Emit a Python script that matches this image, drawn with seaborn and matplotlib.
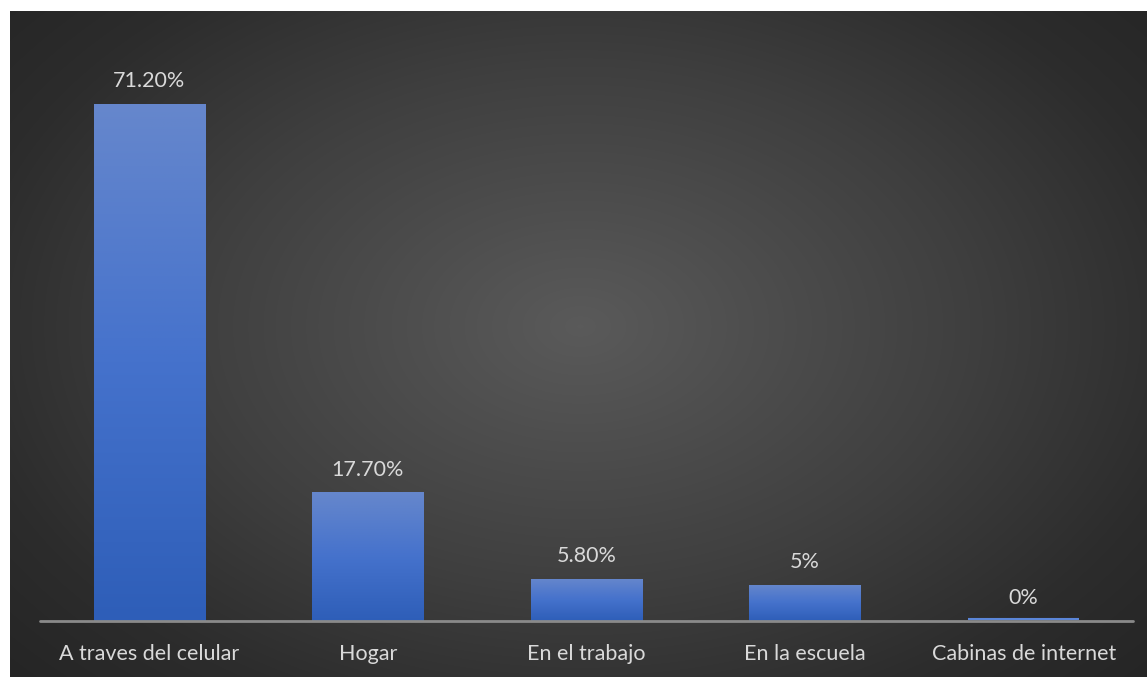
import numpy as np
import pandas as pd
import seaborn as sns
import matplotlib.pyplot as plt
import matplotlib.transforms as mtransforms
from matplotlib.colors import LinearSegmentedColormap

# Datos
categorias = ["A traves del celular", "Hogar", "En el trabajo", "En la escuela", "Cabinas de internet"]
porcentajes = [71.2, 17.7, 5.8, 5.0, 0.0]
etiquetas = ["71.20%", "17.70%", "5.80%", "5%", "0%"]

W, H = 1147, 677
sns.set_theme(style="white")
plt.rcParams["font.family"] = ["Lato", "DejaVu Sans"]

fig = plt.figure(figsize=(W / 100, H / 100), dpi=100)
fig.patch.set_facecolor("white")

# Fondo oscuro con degradado radial
bg = fig.add_axes([10 / W, 0, (W - 10) / W, (H - 11) / H])
bg.set_axis_off()
yy, xx = np.mgrid[0:666, 0:1137]
cx, cy = 570, 315
r = np.sqrt(((xx - cx) / 780.0) ** 2 + ((yy - cy) / 520.0) ** 2)
r = np.clip(r, 0, 1)
bg_cmap = LinearSegmentedColormap.from_list(
    "bg", [(0.0, "#5a5a5a"), (0.5, "#3f3f3f"), (0.8, "#2c2c2c"), (1.0, "#252525")])
bg.imshow(r, cmap=bg_cmap, vmin=0, vmax=1, aspect="auto", interpolation="bilinear")

# Gráfico de barras
ax = fig.add_axes([40 / W, 56 / H, 1093 / W, (621 - 40) / H])
ax.patch.set_alpha(0)
df = pd.DataFrame({"categoria": categorias, "porcentaje": porcentajes})
sns.barplot(data=df, x="categoria", y="porcentaje", color="#4472c4",
            saturation=1, width=0.51, ax=ax)

bar_cmap = LinearSegmentedColormap.from_list("bar", ["#2e5eb8", "#4572cc", "#6687cc"])
grad = np.linspace(0, 1, 256).reshape(-1, 1)
for p in ax.patches:
    x0, w, h = p.get_x(), p.get_width(), p.get_height()
    if h > 0:
        im = ax.imshow(grad, cmap=bar_cmap, origin="lower", aspect="auto",
                       extent=[x0, x0 + w, 0, h], zorder=2)
        im.set_clip_path(p)
        p.set_facecolor("none")
        p.set_edgecolor("none")
    else:
        # barra de valor cero: trazo fino apoyado sobre la línea base
        p.set_edgecolor("#5b86d8")
        p.set_linewidth(1.5)
        p.set_zorder(4)
        p.set_clip_on(False)
        p.set_transform(mtransforms.offset_copy(ax.transData, fig=fig, x=0, y=1.8, units="dots"))

ax.set_xlim(-0.5, len(categorias) - 0.5)
ax.set_ylim(0, 80)
ax.axhline(0, color="#8a8a8a", lw=2.0, zorder=3, clip_on=False)

ax.bar_label(ax.containers[0], labels=etiquetas, padding=9,
             color="#d9d9d9", fontsize=15.5)

for s in ax.spines.values():
    s.set_visible(False)
ax.set_yticks([])
ax.set_xlabel("")
ax.set_ylabel("")
ax.tick_params(axis="x", length=0, pad=16.5, labelsize=15.5, labelcolor="#d9d9d9")

fig.savefig("out.png", dpi=100)
